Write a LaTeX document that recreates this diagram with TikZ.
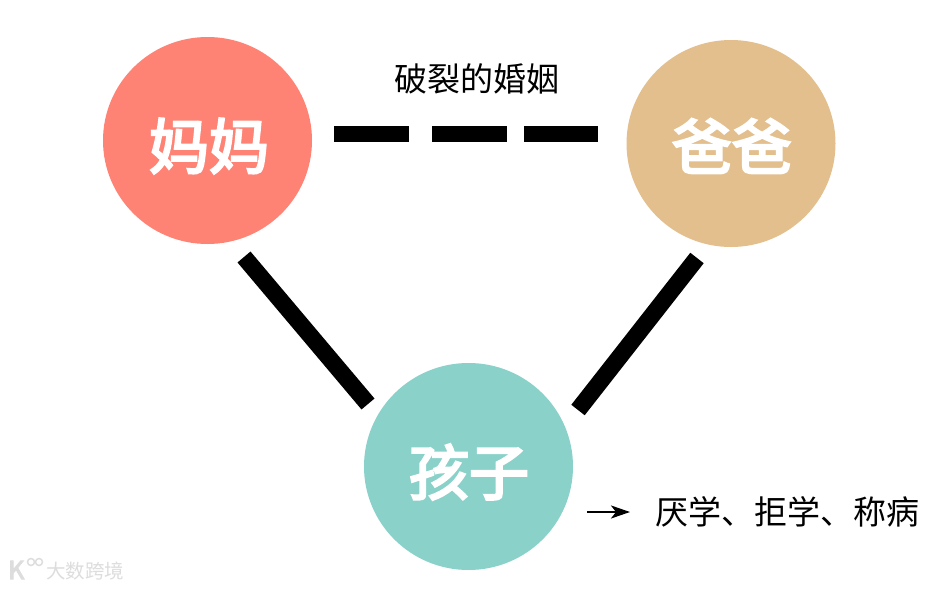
\documentclass[tikz,border=0pt]{standalone}
\usepackage{fontspec}
\setmainfont{Noto Sans CJK SC}
\newfontfamily\kbold[FakeBold=4]{Noto Sans CJK SC}
\usetikzlibrary{arrows.meta,shapes.geometric}
\definecolor{momc}{HTML}{FF8375}
\definecolor{dadc}{HTML}{E3BF8E}
\definecolor{kidc}{HTML}{8AD1CA}
\definecolor{wm}{HTML}{DDDDDD}
\tikzset{
  person/.style={ellipse,minimum width=209pt,minimum height=207pt,inner sep=0pt},
  persontext/.style={inner sep=0pt,text=white,font=\kbold\fontsize{60}{60}\selectfont},
  tie/.style={line width=17pt,black},
  brk/.style={line width=16pt,black},
  captext/.style={inner sep=0pt,text=black,font=\fontsize{33}{33}\selectfont},
}
\begin{document}
\begin{tikzpicture}[x=1pt,y=-1pt]
\useasboundingbox (0,0) rectangle (951,589);
\fill[white] (0,0) rectangle (951,589);
\node[person,fill=momc] (mom) at (207.5,140.5) {};
\node[person,fill=dadc] (dad) at (731,143.5) {};
\node[person,fill=kidc] (kid) at (468.5,466.5) {};
\node[persontext] (momt) at (209,146) {妈妈};
\node[persontext] (dadt) at (732,146) {爸爸};
\node[persontext] (kidt) at (469,472) {孩子};
\coordinate (d1a) at (334,134); \coordinate (d1b) at (409,134);
\coordinate (d2a) at (432,134); \coordinate (d2b) at (507,134);
\coordinate (d3a) at (524,134); \coordinate (d3b) at (598,134);
\draw[brk] (d1a) -- (d1b);
\draw[brk] (d2a) -- (d2b);
\draw[brk] (d3a) -- (d3b);
\coordinate (ma) at (244,257); \coordinate (mb) at (368,404);
\coordinate (fa) at (697,258); \coordinate (fb) at (578,410);
\draw[tie] (ma) -- (mb);
\draw[tie] (fa) -- (fb);
\node[captext] (title) at (477,79) {破裂的婚姻};
\coordinate (aa) at (587,512);
\node[captext,anchor=west] (sym) at (655,512) {厌学、拒学、称病};
\coordinate (ab) at (630,512);
\draw[line width=2.4pt,-{Stealth[length=19pt,width=13pt,inset=5pt]}] (aa) -- (ab);
\node[inner sep=0pt,text=wm,font=\fontsize{19.5}{19.5}\selectfont,anchor=west] (mark) at (46,571) {大数跨境};
\node[inner sep=0pt,text=wm,font=\kbold\fontsize{25}{25}\selectfont,anchor=west] (logok) at (8,570) {K};
\draw[wm,line width=1.5pt] (31,562) circle (3.5pt) (39,562) circle (3.5pt);
\end{tikzpicture}
\end{document}
